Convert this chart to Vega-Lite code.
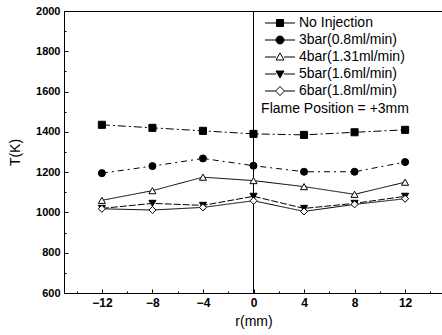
{
  "$schema": "https://vega.github.io/schema/vega-lite/v6.json",
  "autosize": {"type": "none"},
  "width": 379,
  "height": 282,
  "padding": {"left": 64, "top": 11, "right": 0, "bottom": 42},
  "background": "white",
  "config": {
    "view": {"stroke": "black", "strokeWidth": 1},
    "font": "Liberation Sans",
    "legend": {
      "title": null,
      "orient": "none",
      "legendX": 209,
      "legendY": 5,
      "symbolSize": 100,
      "symbolStrokeWidth": 1,
      "symbolOpacity": 1,
      "labelFont": "Liberation Sans",
      "labelFontSize": 14,
      "labelColor": "black",
      "labelOffset": 12,
      "rowPadding": 3,
      "padding": 0
    }
  },
  "datasets": {
    "temps": [
      {"series": "No Injection", "r": -12, "T": 1435},
      {"series": "No Injection", "r": -8, "T": 1420},
      {"series": "No Injection", "r": -4, "T": 1405},
      {"series": "No Injection", "r": 0, "T": 1390},
      {"series": "No Injection", "r": 4, "T": 1385},
      {"series": "No Injection", "r": 8, "T": 1398},
      {"series": "No Injection", "r": 12, "T": 1410},
      {"series": "3bar(0.8ml/min)", "r": -12, "T": 1195},
      {"series": "3bar(0.8ml/min)", "r": -8, "T": 1230},
      {"series": "3bar(0.8ml/min)", "r": -4, "T": 1268},
      {"series": "3bar(0.8ml/min)", "r": 0, "T": 1232},
      {"series": "3bar(0.8ml/min)", "r": 4, "T": 1202},
      {"series": "3bar(0.8ml/min)", "r": 8, "T": 1202},
      {"series": "3bar(0.8ml/min)", "r": 12, "T": 1250},
      {"series": "4bar(1.31ml/min)", "r": -12, "T": 1060},
      {"series": "4bar(1.31ml/min)", "r": -8, "T": 1108},
      {"series": "4bar(1.31ml/min)", "r": -4, "T": 1175},
      {"series": "4bar(1.31ml/min)", "r": 0, "T": 1158},
      {"series": "4bar(1.31ml/min)", "r": 4, "T": 1128},
      {"series": "4bar(1.31ml/min)", "r": 8, "T": 1090},
      {"series": "4bar(1.31ml/min)", "r": 12, "T": 1150},
      {"series": "5bar(1.6ml/min)", "r": -12, "T": 1020},
      {"series": "5bar(1.6ml/min)", "r": -8, "T": 1045},
      {"series": "5bar(1.6ml/min)", "r": -4, "T": 1035},
      {"series": "5bar(1.6ml/min)", "r": 0, "T": 1080},
      {"series": "5bar(1.6ml/min)", "r": 4, "T": 1020},
      {"series": "5bar(1.6ml/min)", "r": 8, "T": 1045},
      {"series": "5bar(1.6ml/min)", "r": 12, "T": 1080},
      {"series": "6bar(1.8ml/min)", "r": -12, "T": 1018},
      {"series": "6bar(1.8ml/min)", "r": -8, "T": 1012},
      {"series": "6bar(1.8ml/min)", "r": -4, "T": 1025},
      {"series": "6bar(1.8ml/min)", "r": 0, "T": 1058},
      {"series": "6bar(1.8ml/min)", "r": 4, "T": 1005},
      {"series": "6bar(1.8ml/min)", "r": 8, "T": 1040},
      {"series": "6bar(1.8ml/min)", "r": 12, "T": 1068}
    ]
  },
  "resolve": {"axis": {"x": "independent", "y": "independent"}, "scale": {"shape": "independent", "fill": "independent", "stroke": "independent"}, "legend": {"shape": "independent", "fill": "independent", "stroke": "independent"}},
  "layer": [
    {
      "data": {"values": [{"r": 0, "T": 1300}]},
      "mark": {"type": "rule", "color": "black", "strokeWidth": 1},
      "encoding": {
        "x": {
          "field": "r", "type": "quantitative",
          "scale": {"domain": [-15, 15], "nice": false, "zero": false},
          "axis": {"orient": "bottom", "values": [-14, -10, -6, -2, 2, 6, 10, 14], "labels": false, "domain": false, "grid": false, "title": null, "tickSize": -2, "tickColor": "black"}
        }
      }
    },
    {
      "data": {"values": [{"r": 0, "T": 700}, {"r": 0, "T": 900}, {"r": 0, "T": 1100}, {"r": 0, "T": 1300}, {"r": 0, "T": 1500}, {"r": 0, "T": 1700}, {"r": 0, "T": 1900}]},
      "mark": {"type": "point", "opacity": 0},
      "encoding": {
        "y": {
          "field": "T", "type": "quantitative",
          "scale": {"domain": [600, 2000], "nice": false, "zero": false},
          "axis": {"orient": "left", "values": [700, 900, 1100, 1300, 1500, 1700, 1900], "labels": false, "domain": false, "grid": false, "title": null, "tickSize": -2, "tickColor": "black"}
        }
      }
    },
    {
      "data": {"name": "temps"},
      "mark": {"type": "line", "color": "black", "strokeWidth": 1},
      "encoding": {
        "x": {
          "field": "r", "type": "quantitative",
          "scale": {"domain": [-15, 15], "nice": false, "zero": false},
          "axis": {"orient": "bottom", "values": [-12, -8, -4, 0, 4, 8, 12], "format": "d", "grid": false, "title": "r(mm)", "tickSize": -4, "tickColor": "black", "domainColor": "black", "labelFont": "Liberation Sans", "labelFontSize": 12, "labelFontWeight": "bold", "labelColor": "black", "labelPadding": 8, "titleFont": "Liberation Sans", "titleFontSize": 14, "titleFontWeight": "normal", "titleColor": "black", "titlePadding": 6}
        },
        "y": {
          "field": "T", "type": "quantitative",
          "scale": {"domain": [600, 2000], "nice": false, "zero": false},
          "axis": {"orient": "left", "values": [600, 800, 1000, 1200, 1400, 1600, 1800, 2000], "format": "d", "grid": false, "title": "T(K)", "tickSize": -4, "tickColor": "black", "domainColor": "black", "labelFont": "Liberation Sans", "labelFontSize": 11, "labelFontWeight": "bold", "labelColor": "black", "labelPadding": 8, "titleFont": "Liberation Sans", "titleFontSize": 14, "titleFontWeight": "normal", "titleColor": "black", "titlePadding": 13}
        },
        "strokeDash": {
          "field": "series", "type": "nominal",
          "scale": {"domain": ["No Injection", "3bar(0.8ml/min)", "4bar(1.31ml/min)", "5bar(1.6ml/min)", "6bar(1.8ml/min)"], "range": [[8, 3, 2, 3], [6, 4, 2, 4], [1, 0], [7, 2], [1, 0]]},
          "legend": null
        }
      }
    },
    {
      "data": {"name": "temps"},
      "mark": {"type": "point", "stroke": "black", "strokeWidth": 1, "size": 50, "opacity": 1},
      "encoding": {
        "x": {"field": "r", "type": "quantitative", "scale": {"domain": [-15, 15], "nice": false, "zero": false}, "axis": null},
        "y": {"field": "T", "type": "quantitative", "scale": {"domain": [600, 2000], "nice": false, "zero": false}, "axis": null},
        "shape": {
          "field": "series", "type": "nominal",
          "scale": {"domain": ["No Injection", "3bar(0.8ml/min)", "4bar(1.31ml/min)", "5bar(1.6ml/min)", "6bar(1.8ml/min)"], "range": ["square", "circle", "triangle-up", "triangle-down", "diamond"]},
          "legend": null
        },
        "fill": {
          "field": "series", "type": "nominal",
          "scale": {"domain": ["No Injection", "3bar(0.8ml/min)", "4bar(1.31ml/min)", "5bar(1.6ml/min)", "6bar(1.8ml/min)"], "range": ["black", "black", "white", "black", "white"]},
          "legend": null
        }
      }
    },
    {
      "data": {"name": "temps"},
      "mark": {"type": "point", "filled": true, "strokeWidth": 1, "size": 0, "opacity": 1},
      "encoding": {
        "x": {"field": "r", "type": "quantitative", "scale": {"domain": [-15, 15], "nice": false, "zero": false}, "axis": null},
        "y": {"field": "T", "type": "quantitative", "scale": {"domain": [600, 2000], "nice": false, "zero": false}, "axis": null},
        "shape": {
          "field": "series", "type": "nominal",
          "scale": {"domain": ["No Injection", "3bar(0.8ml/min)", "4bar(1.31ml/min)", "5bar(1.6ml/min)", "6bar(1.8ml/min)"], "range": ["M-3,0H-0.7M0.7,0H3M-0.7,-0.7H0.7V0.7H-0.7Z", "M-3,0H-0.8M0.8,0H3M-0.8,0A0.8,0.8 0 1,0 0.8,0A0.8,0.8 0 1,0 -0.8,0Z", "M-3,0H-0.8M0.8,0H3M0,-0.8L0.8,0.6H-0.8Z", "M-3,0H-0.8M0.8,0H3M0,0.8L0.8,-0.6H-0.8Z", "M-3,0H-0.9M0.9,0H3M0,-0.9L0.9,0L0,0.9L-0.9,0Z"]}
        },
        "fill": {
          "field": "series", "type": "nominal",
          "scale": {"domain": ["No Injection", "3bar(0.8ml/min)", "4bar(1.31ml/min)", "5bar(1.6ml/min)", "6bar(1.8ml/min)"], "range": ["black", "black", "white", "black", "white"]}
        },
        "stroke": {
          "field": "series", "type": "nominal",
          "scale": {"domain": ["No Injection", "3bar(0.8ml/min)", "4bar(1.31ml/min)", "5bar(1.6ml/min)", "6bar(1.8ml/min)"], "range": ["black", "black", "black", "black", "black"]}
        }
      }
    },
    {
      "data": {"values": [{"r": 0.6, "T": 1515, "label": "Flame Position = +3mm"}]},
      "mark": {"type": "text", "align": "left", "baseline": "middle", "font": "Liberation Sans", "fontSize": 14, "color": "black"},
      "encoding": {
        "x": {"field": "r", "type": "quantitative", "scale": {"domain": [-15, 15], "nice": false, "zero": false}, "axis": null},
        "y": {"field": "T", "type": "quantitative", "scale": {"domain": [600, 2000], "nice": false, "zero": false}, "axis": null},
        "text": {"field": "label"}
      }
    }
  ]
}
